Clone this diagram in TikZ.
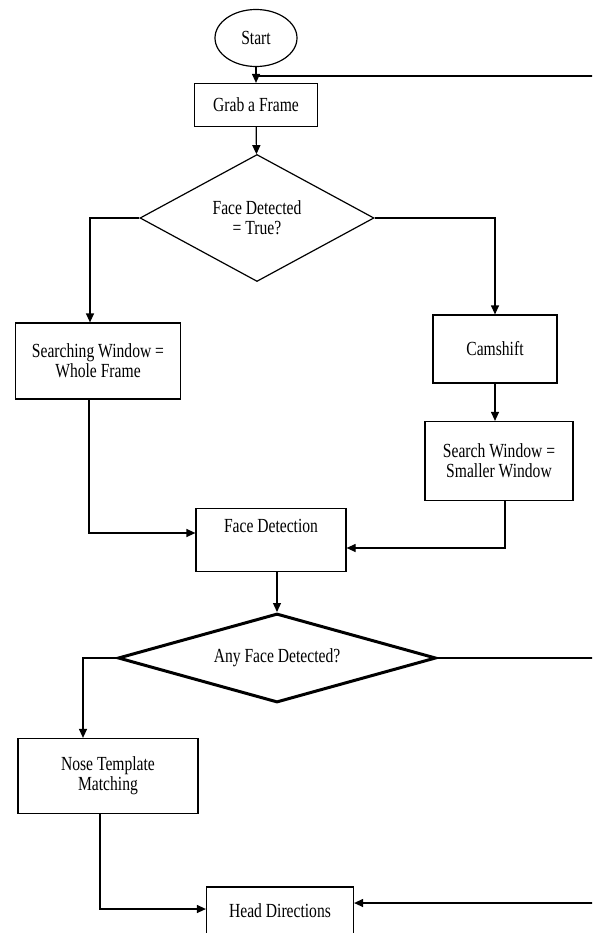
\documentclass[tikz,border=0pt]{standalone}
\usepackage{fontspec}
\setmainfont{Liberation Serif}[FakeStretch=0.78]
\usepackage{tikz}
\usetikzlibrary{shapes.geometric}
\usetikzlibrary{arrows.meta}
\begin{document}
\begin{tikzpicture}[x=1pt,y=-1pt,
  font=\fontsize{20}{20}\selectfont,
  line/.style={line width=1.2pt},
  arr/.style={line width=1.2pt,-{Triangle[length=9pt,width=8pt]}},
  box/.style={draw=black,rectangle,line width=1.2pt,align=center,inner sep=0pt},
  decision/.style={draw=black,diamond,line width=1.2pt,align=center,inner sep=0pt},
  terminal/.style={draw=black,ellipse,line width=1.2pt,inner sep=0pt}]
  \clip (0,0) rectangle (592,933);
  \fill[white] (0,0) rectangle (592,933);
  % nodes
  \node[terminal,minimum width=82pt,minimum height=57pt] (start) at (256,38) {Start};
  \node[box,minimum width=123pt,minimum height=43pt] (grab) at (256,105) {Grab a Frame};
  \node[decision,minimum width=234pt,minimum height=127pt,aspect=1.84] (dec1) at (257,218) {Face Detected\\= True?};
  \node[box,minimum width=165pt,minimum height=76pt] (searchwin) at (98,361) {Searching Window =\\Whole Frame};
  \node[box,minimum width=124pt,minimum height=68pt] (camshift) at (495,349) {Camshift};
  \node[box,minimum width=148pt,minimum height=79pt] (smallwin) at (499,461) {Search Window =\\Smaller Window};
  \node[box,minimum width=150pt,minimum height=63pt] (facedet) at (271,540) {Face Detection\\[8pt]};
  \node[decision,line width=3pt,minimum width=318pt,minimum height=89pt,aspect=3.57] (dec2) at (277,658) {Any Face Detected?};
  \node[box,minimum width=180pt,minimum height=75pt] (nose) at (108,776) {Nose Template\\Matching};
  \node[box,minimum width=147pt,minimum height=48pt] (head) at (280,911) {Head Directions};
  \coordinate (loop) at (610,76);
  \coordinate (right) at (610,903);
  % connectors
  \draw[arr] (start) -- (grab);
  \draw[line] (loop) -- (grab.north |- loop);
  \draw[arr] (grab) -- (dec1);
  \draw[arr] (dec1.west) -| ([xshift=-8pt]searchwin.north);
  \draw[arr] (dec1.east) -| (camshift.north);
  \draw[arr] (camshift.south) -- (camshift.south |- smallwin.north);
  \draw[arr] ([xshift=-9pt]searchwin.south) |- ([yshift=7pt]facedet.west);
  \draw[arr] ([xshift=6pt]smallwin.south) |- ([yshift=-8pt]facedet.east);
  \draw[arr] ([xshift=7pt]facedet.south) -- (facedet.south -| dec2.north) -- (dec2.north);
  \draw[arr] (dec2.west) -| ([xshift=-25pt]nose.north);
  \draw[arr] ([xshift=-8pt]nose.south) |- ([yshift=2pt]head.west);
  \draw[line] (dec2.east) -| (right);
  \draw[arr] (right) -- (right -| head.east);
\end{tikzpicture}
\end{document}
